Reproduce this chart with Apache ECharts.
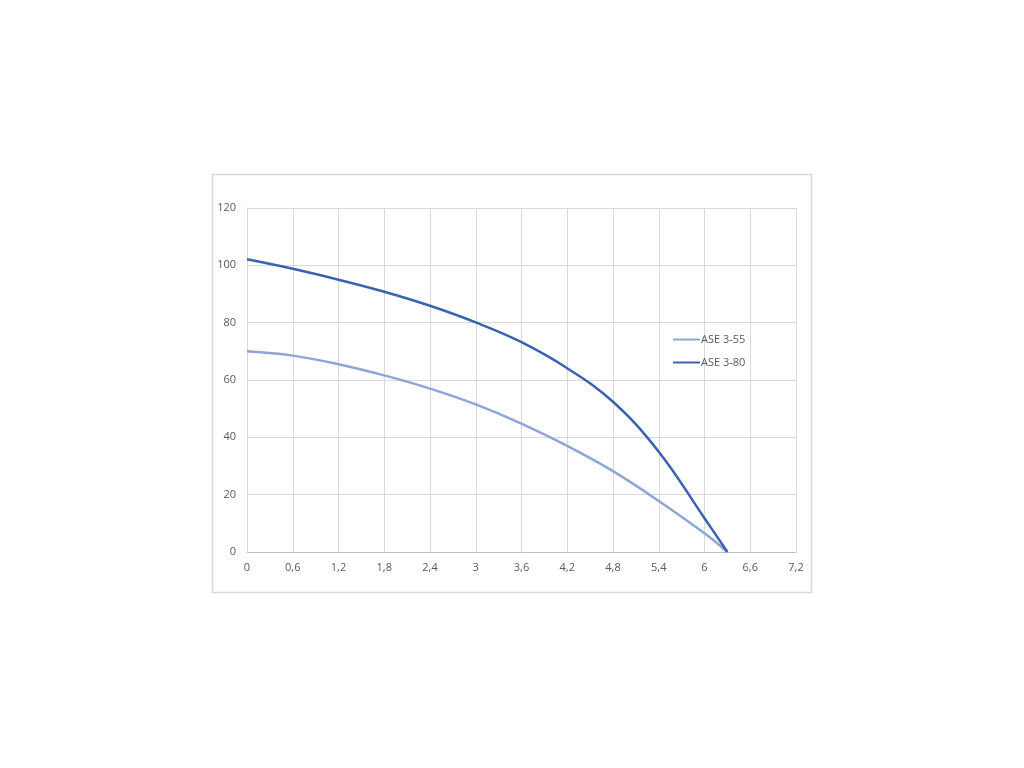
<!DOCTYPE html>
<html>
<head>
<meta charset="utf-8">
<script src="https://cdn.jsdelivr.net/npm/echarts@6/dist/echarts.min.js"></script>
<style>
html,body{margin:0;padding:0;background:#fff;}
#chart{width:1024px;height:768px;}
</style>
</head>
<body>
<div id="chart"></div>
<script>
var flow = [0, 0.6, 1.2, 1.8, 2.4, 3, 3.6, 4.2, 4.8, 5.4, 6, 6.3];
var ase355 = [70.0, 68.5, 65.5, 61.6, 57.0, 51.5, 44.8, 37.0, 28.2, 17.8, 6.5, 0];
var ase380 = [102.1, 98.8, 95.0, 90.8, 85.9, 80.1, 73.2, 64.1, 52.4, 35.0, 11.8, 0];
var seriesNames = ['ASE 3-55', 'ASE 3-80'];

function pairs(xs, ys) { return xs.map(function (x, i) { return [x, ys[i]]; }); }
var font = '"Open Sans", "Noto Sans", sans-serif';

var chart = echarts.init(document.getElementById('chart'));
chart.setOption({
  animation: false,
  backgroundColor: '#fff',
  graphic: [{
    type: 'rect',
    shape: { x: 212.5, y: 174.5, width: 599, height: 418 },
    style: { fill: 'none', stroke: '#d9d9d9', lineWidth: 1.5 },
    z: -1
  }],
  grid: { left: 247, right: 228, top: 208, bottom: 216 },
  legend: {
    orient: 'vertical',
    left: 668, top: 329,
    itemWidth: 27, itemHeight: 2, itemGap: 12,
    icon: 'rect',
    textStyle: { fontFamily: font, fontSize: 11, color: '#595959', padding: [0, 0, 0, -4] },
    data: seriesNames
  },
  xAxis: {
    type: 'value', min: 0, max: 7.2, interval: 0.6,
    axisLine: { show: true, lineStyle: { color: '#bfbfbf', width: 1 } },
    axisTick: { show: false },
    splitLine: { show: true, lineStyle: { color: '#d9d9d9', width: 1 } },
    axisLabel: {
      margin: 10, fontFamily: font, fontSize: 11, color: '#595959',
      formatter: function (v) { return String(Math.round(v * 10) / 10).replace('.', ','); }
    }
  },
  yAxis: {
    type: 'value', min: 0, max: 120, interval: 20,
    axisLine: { show: true, lineStyle: { color: '#d9d9d9', width: 1 } },
    axisTick: { show: false },
    splitLine: { show: true, lineStyle: { color: '#d9d9d9', width: 1 } },
    axisLabel: { margin: 11, fontFamily: font, fontSize: 11, color: '#595959' }
  },
  series: [
    {
      name: seriesNames[0], type: 'line', smooth: 0.4, showSymbol: false,
      data: pairs(flow, ase355),
      lineStyle: { color: '#8da5d8', width: 2.5 },
      itemStyle: { color: '#8da5d8' }
    },
    {
      name: seriesNames[1], type: 'line', smooth: 0.4, showSymbol: false,
      data: pairs(flow, ase380),
      lineStyle: { color: '#3a62b2', width: 2.5 },
      itemStyle: { color: '#3a62b2' }
    }
  ]
});
</script>
</body>
</html>
